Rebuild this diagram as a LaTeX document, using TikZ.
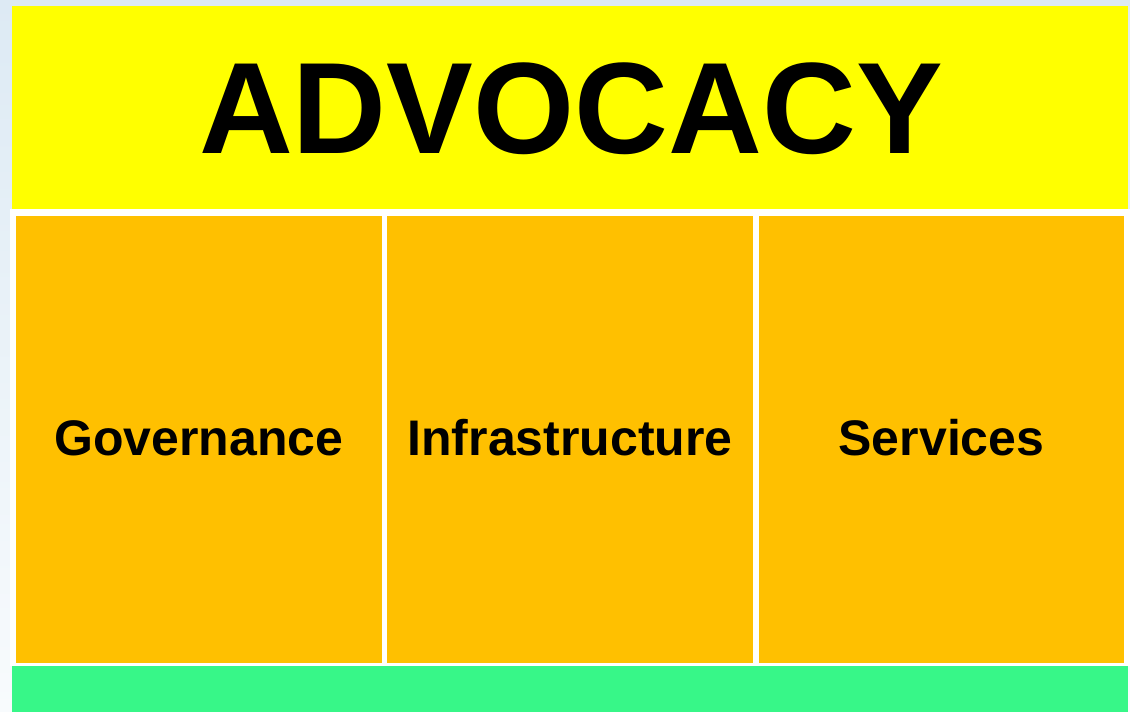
\documentclass[tikz,border=0pt]{standalone}
\usepackage{fontspec}
\setmainfont{Liberation Sans}
\definecolor{bgtop}{HTML}{DDEAF4}
\definecolor{bgbot}{HTML}{F8FBFD}
\definecolor{advyellow}{HTML}{FFFF00}
\definecolor{pillar}{HTML}{FFC000}
\definecolor{basegreen}{HTML}{37F788}
\tikzset{
  pillarbox/.style={fill=pillar, draw=none},
  pillartext/.style={font=\bfseries\fontsize{50}{60}\selectfont, text=black, anchor=base, inner sep=0pt},
}
\begin{document}
\begin{tikzpicture}[x=1pt,y=-1pt]
\useasboundingbox (0,0) rectangle (1130,712);
\shade[top color=bgtop, bottom color=bgbot] (0,0) rectangle (1130,712);
\fill[white] (10,209) rectangle (1130,666);
\fill[advyellow] (12,6) rectangle (1128,209);
\node[font=\bfseries\fontsize{130}{150}\selectfont, anchor=base, inner sep=0pt] (title) at (571,153.5) {ADVOCACY};
\fill[pillarbox] (16,216) rectangle (382,663);
\fill[pillarbox] (387,216) rectangle (753,663);
\fill[pillarbox] (759,216) rectangle (1124,663);
\node[pillartext] (gov) at (199,455) {Governance};
\node[pillartext] (inf) at (570,455) {Infrastructure};
\node[pillartext] (ser) at (941.5,455) {Services};
\fill[basegreen] (12,666) rectangle (1128,712);
\end{tikzpicture}
\end{document}
